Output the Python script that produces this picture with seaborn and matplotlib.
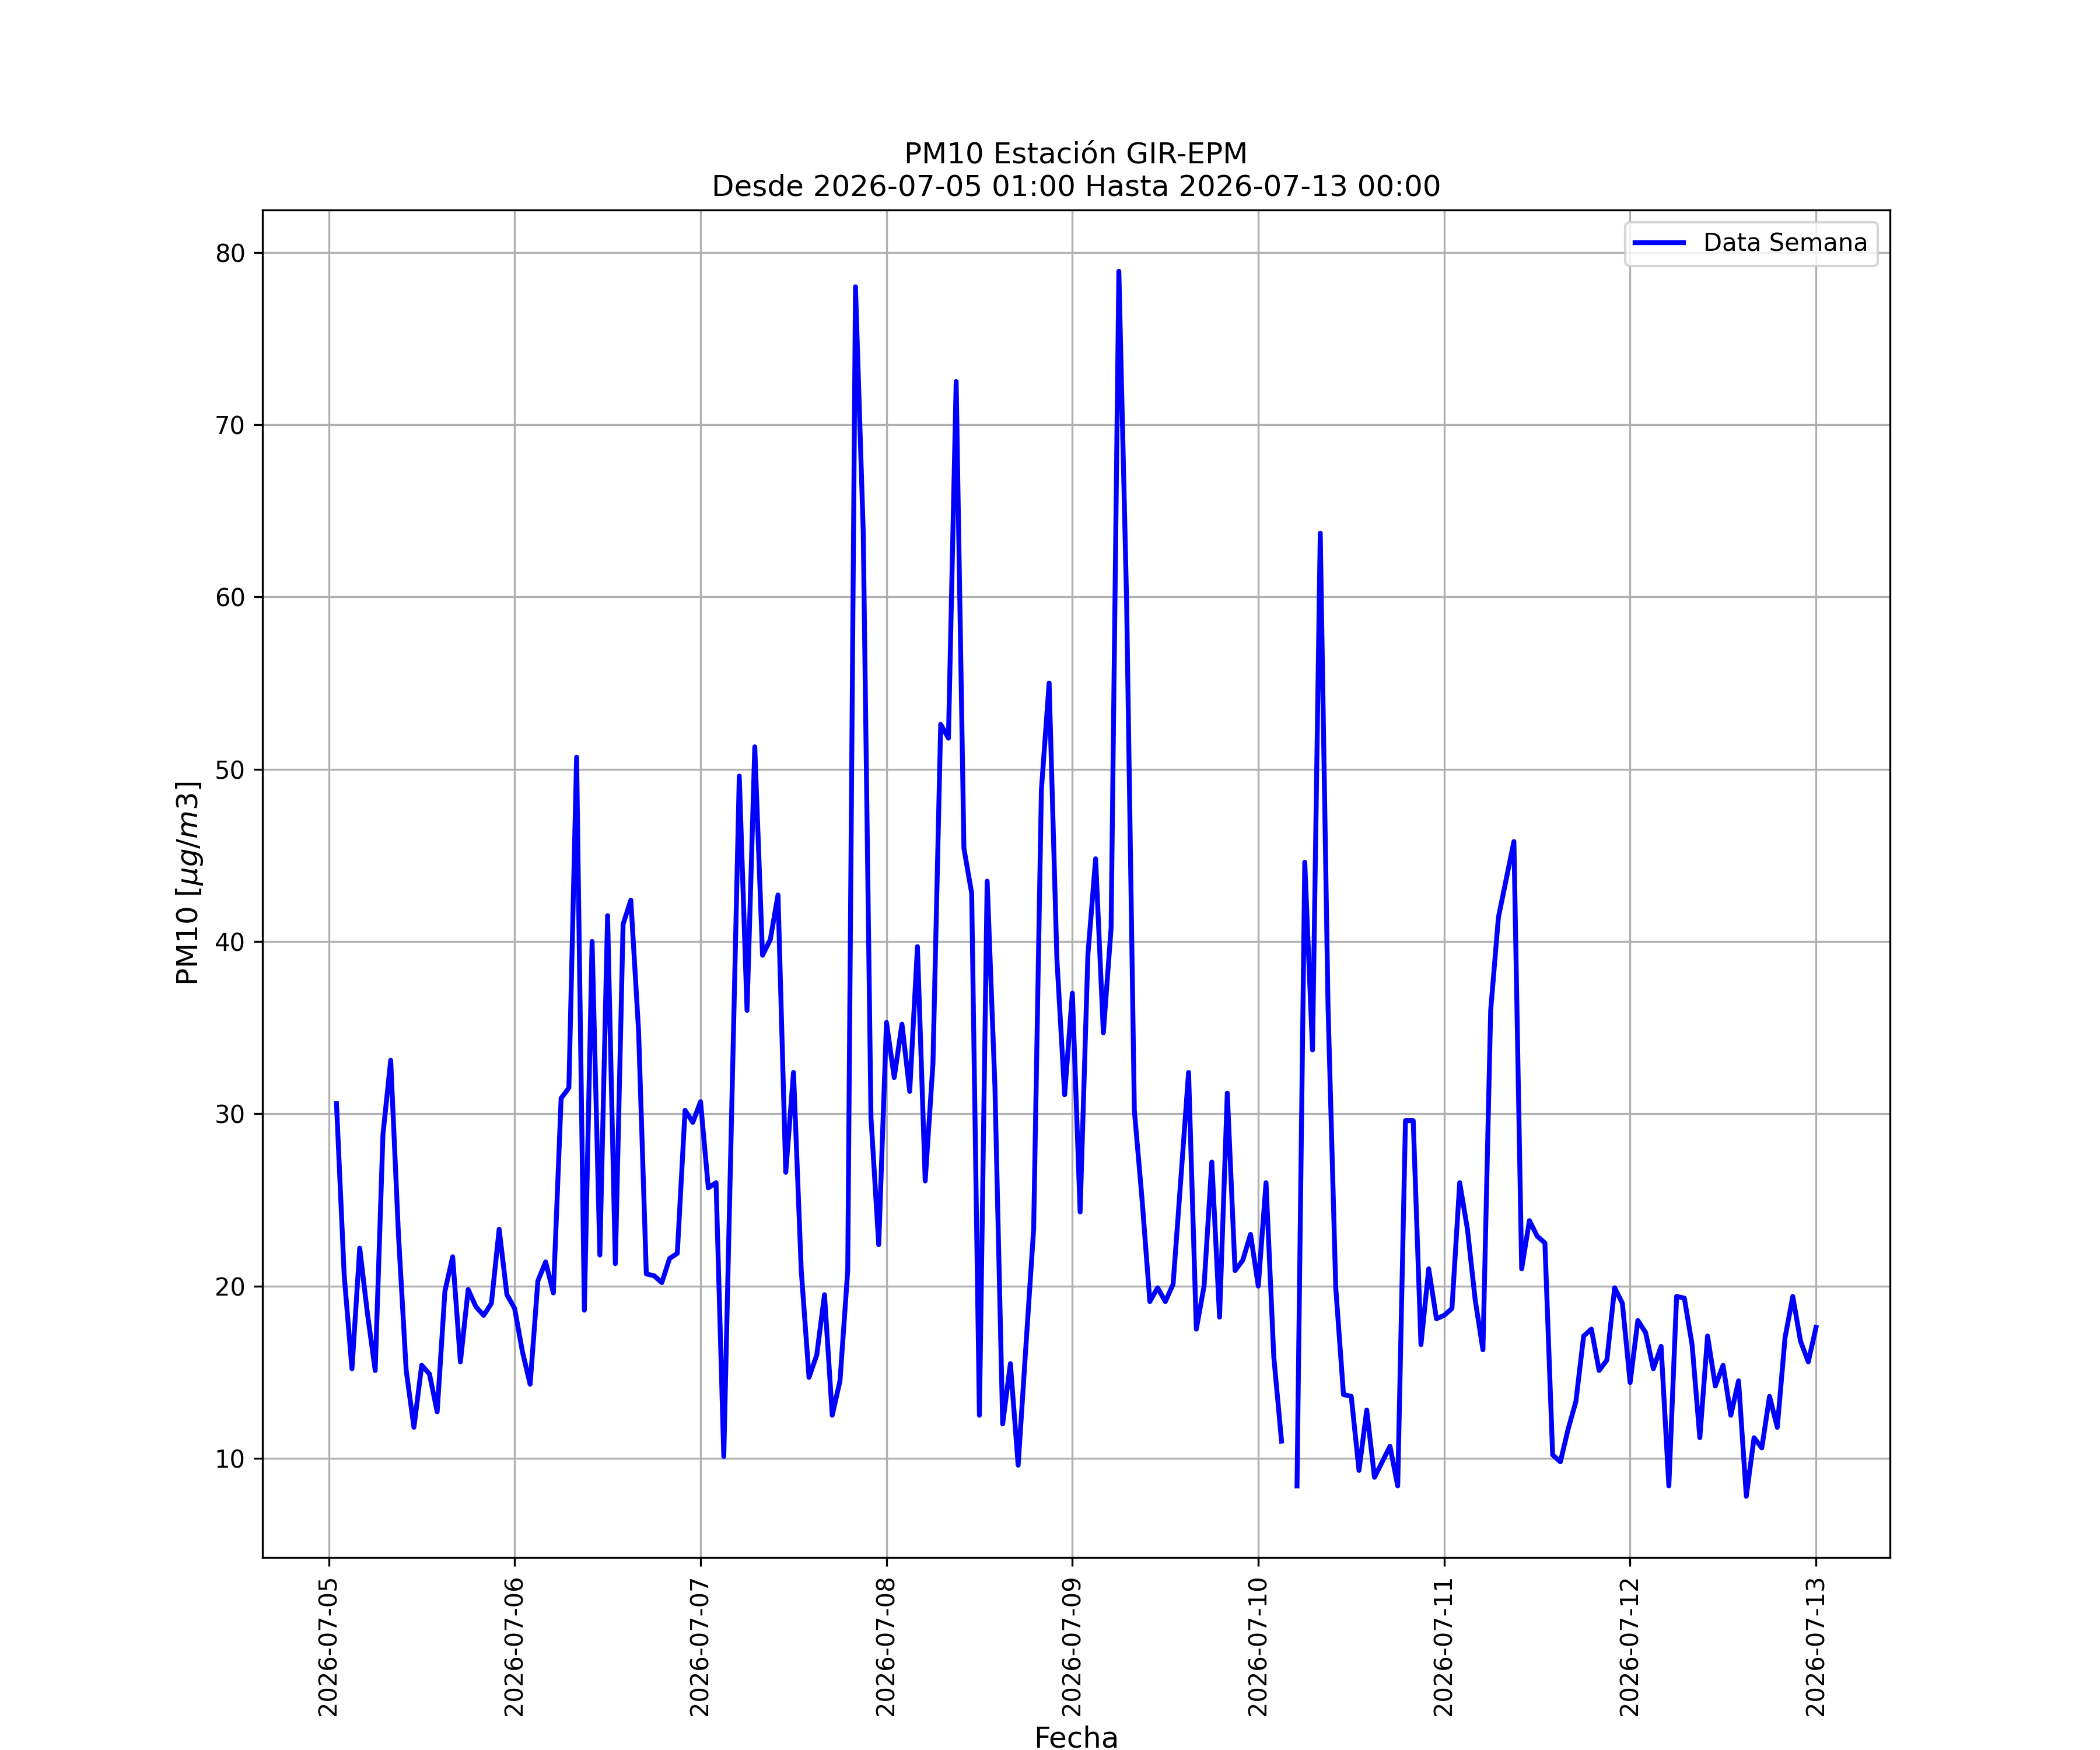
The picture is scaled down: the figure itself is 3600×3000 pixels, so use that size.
import pandas as pd
import numpy as np
import matplotlib
matplotlib.use("Agg")
import matplotlib.pyplot as plt
import matplotlib.dates as mdates
import seaborn as sns

# PM10 hourly values, 2026-07-05 01:00 .. 2026-07-13 00:00 (None = missing hour)
pm10 = [
    30.6, 20.6, 15.2, 22.2, 18.4, 15.1, 28.8, 33.1, 23.0, 15.1, 11.8, 15.4,
    14.9, 12.7, 19.7, 21.7, 15.6, 19.8, 18.8, 18.3, 19.0, 23.3, 19.5, 18.7,
    16.2, 14.3, 20.3, 21.4, 19.6, 30.9, 31.5, 50.7, 18.6, 40.0, 21.8, 41.5,
    21.3, 41.0, 42.4, 34.8, 20.7, 20.6, 20.2, 21.6, 21.9, 30.2, 29.5, 30.7,
    25.7, 26.0, 10.1, 29.8, 49.6, 36.0, 51.3, 39.2, 40.1, 42.7, 26.6, 32.4,
    20.9, 14.7, 16.0, 19.5, 12.5, 14.5, 20.9, 78.0, 63.8, 29.8, 22.4, 35.3,
    32.1, 35.2, 31.3, 39.7, 26.1, 32.9, 52.6, 51.8, 72.5, 45.4, 42.8, 12.5,
    43.5, 31.6, 12.0, 15.5, 9.6, 16.5, 23.3, 48.8, 55.0, 39.0, 31.1, 37.0,
    24.3, 39.2, 44.8, 34.7, 40.8, 78.9, 59.8, 30.2, 25.0, 19.1, 19.9, 19.1,
    20.1, 26.2, 32.4, 17.5, 20.0, 27.2, 18.2, 31.2, 20.9, 21.5, 23.0, 20.0,
    26.0, 15.9, 11.0, None, 8.4, 44.6, 33.7, 63.7, 36.3, 19.9, 13.7, 13.6,
    9.3, 12.8, 8.9, 9.8, 10.7, 8.4, 29.6, 29.6, 16.6, 21.0, 18.1, 18.3,
    18.7, 26.0, 23.3, 19.2, 16.3, 36.0, 41.4, 43.6, 45.8, 21.0, 23.8, 22.9,
    22.5, 10.2, 9.8, 11.7, 13.3, 17.1, 17.5, 15.1, 15.7, 19.9, 19.0, 14.4,
    18.0, 17.3, 15.2, 16.5, 8.4, 19.4, 19.3, 16.6, 11.2, 17.1, 14.2, 15.4,
    12.5, 14.5, 7.8, 11.2, 10.6, 13.6, 11.8, 17.0, 19.4, 16.8, 15.6, 17.6,
]
fechas = pd.date_range("2026-07-05 01:00", periods=len(pm10), freq="h")

df = pd.DataFrame({"Fecha": fechas, "PM10": pd.array(pm10, dtype="float")})
# missing hours break the line: each run of valid data is its own unit
df["tramo"] = df["PM10"].isna().cumsum()
df = df.dropna(subset=["PM10"])

fig, ax = plt.subplots(figsize=(12, 10), dpi=300)
sns.lineplot(data=df, x="Fecha", y="PM10", units="tramo", estimator=None,
             color="blue", linewidth=2, label="Data Semana", ax=ax)

ax.set_title("PM10 Estación GIR-EPM\nDesde 2026-07-05 01:00 Hasta 2026-07-13 00:00", fontsize=12)
ax.set_xlabel("Fecha", fontsize=12)
ax.set_ylabel(r"PM10 [$\mu g/m3$]", fontsize=12)
ax.xaxis.set_major_locator(mdates.DayLocator())
ax.xaxis.set_major_formatter(mdates.DateFormatter("%Y-%m-%d"))
plt.setp(ax.get_xticklabels(), rotation=90)
ax.grid(True)
handles, labels = ax.get_legend_handles_labels()
ax.legend(handles[:1], labels[:1], loc="upper right")

fig.savefig("out.png", dpi=300)
